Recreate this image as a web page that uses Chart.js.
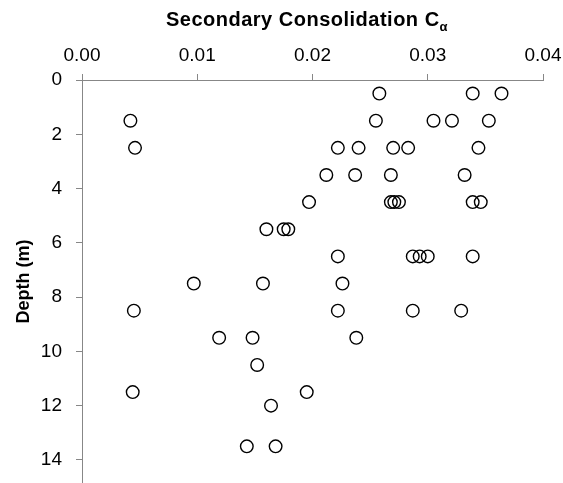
<!DOCTYPE html>
<html>
<head>
<meta charset="utf-8">
<script src="https://cdn.jsdelivr.net/npm/chart.js@4"></script>
<style>
  body { margin: 0; background: #fff; }
  #wrap { width: 563px; height: 483px; position: relative; }
</style>
</head>
<body>
<div id="wrap"><canvas id="caChart"></canvas></div>
<script>
// Secondary consolidation coefficient vs depth
const depths = [
  0.5, 0.5, 0.5,
  1.5, 1.5, 1.5, 1.5, 1.5,
  2.5, 2.5, 2.5, 2.5, 2.5, 2.5,
  3.5, 3.5, 3.5, 3.5,
  4.5, 4.5, 4.5, 4.5, 4.5, 4.5,
  5.5, 5.5, 5.5,
  6.5, 6.5, 6.5, 6.5, 6.5,
  7.5, 7.5, 7.5,
  8.5, 8.5, 8.5, 8.5,
  9.5, 9.5, 9.5,
  10.5,
  11.5, 11.5,
  12.0,
  13.5, 13.5
];
const caValues = [
  0.0258, 0.0339, 0.0364,
  0.0042, 0.0255, 0.0305, 0.0321, 0.0353,
  0.0046, 0.0222, 0.0240, 0.0270, 0.0283, 0.0344,
  0.0212, 0.0237, 0.0268, 0.0332,
  0.0197, 0.0268, 0.0271, 0.0275, 0.0339, 0.0346,
  0.0160, 0.0175, 0.0179,
  0.0222, 0.0287, 0.0293, 0.0300, 0.0339,
  0.0097, 0.0157, 0.0226,
  0.0045, 0.0222, 0.0287, 0.0329,
  0.0119, 0.0148, 0.0238,
  0.0152,
  0.0044, 0.0195,
  0.0164,
  0.0143, 0.0168
];
const xTicks = [0, 0.01, 0.02, 0.03, 0.04];
const yTicks = [0, 2, 4, 6, 8, 10, 12, 14];

const fontFamily = '"Liberation Sans", Arial, sans-serif';
const axisColor = '#878787';

// title with subscript alpha
const titlePlugin = {
  id: 'caTitle',
  afterDraw(chart) {
    const ctx = chart.ctx;
    const main = 'Secondary Consolidation C';
    const sub = 'α';
    ctx.save();
    ctx.fillStyle = '#000';
    ctx.textBaseline = 'alphabetic';
    ctx.textAlign = 'left';
    ctx.letterSpacing = '0.5px';
    ctx.font = 'bold 20px ' + fontFamily;
    const w1 = ctx.measureText(main).width;
    ctx.font = 'bold 13px ' + fontFamily;
    const w2 = ctx.measureText(sub).width;
    let x = 307 - (w1 + w2) / 2;
    ctx.font = 'bold 20px ' + fontFamily;
    ctx.fillText(main, x, 26);
    ctx.font = 'bold 13px ' + fontFamily;
    ctx.fillText(sub, x + w1, 31);
    ctx.restore();
  }
};

const ctx = document.getElementById('caChart').getContext('2d');
new Chart(ctx, {
  type: 'scatter',
  data: {
    datasets: [{
      data: caValues.map((v, i) => ({ x: v, y: depths[i] })),
      pointStyle: 'circle',
      pointRadius: 6.3,
      pointHoverRadius: 6.3,
      borderColor: '#000',
      borderWidth: 1.4,
      backgroundColor: 'rgba(0,0,0,0)'
    }]
  },
  options: {
    responsive: true,
    maintainAspectRatio: false,
    animation: false,
    layout: { autoPadding: false, padding: { top: 0, left: 0, right: 20, bottom: 0 } },
    plugins: {
      legend: { display: false },
      tooltip: { enabled: false }
    },
    scales: {
      x: {
        type: 'linear',
        position: 'top',
        min: 0,
        max: 0.04,
        afterFit(scale) {
          scale.height = 80;
          scale.paddingLeft = 0; scale.paddingRight = 0;
          scale.paddingTop = 0; scale.paddingBottom = 0;
        },
        afterBuildTicks(scale) { scale.ticks = xTicks.map(v => ({ value: v })); },
        ticks: {
          padding: 7,
          color: '#000',
          font: { family: fontFamily, size: 19 },
          callback: v => v.toFixed(2)
        },
        grid: { drawOnChartArea: false, tickLength: 6, color: axisColor, lineWidth: 1 },
        border: { color: axisColor, width: 1 }
      },
      y: {
        type: 'linear',
        reverse: true,
        min: 0,
        max: 14.85,
        afterFit(scale) {
          scale.width = 82;
          scale.paddingLeft = 0; scale.paddingRight = 0;
          scale.paddingTop = 0; scale.paddingBottom = 0;
        },
        afterBuildTicks(scale) { scale.ticks = yTicks.map(v => ({ value: v })); },
        ticks: {
          padding: 14,
          color: '#000',
          font: { family: fontFamily, size: 19 }
        },
        title: {
          display: true,
          text: 'Depth (m)',
          color: '#000',
          font: { family: fontFamily, size: 18, weight: 'bold' },
          padding: { top: 13, bottom: 0 }
        },
        grid: { drawOnChartArea: false, tickLength: 6, color: axisColor, lineWidth: 1 },
        border: { color: axisColor, width: 1 }
      }
    }
  },
  plugins: [titlePlugin]
});
</script>
</body>
</html>
